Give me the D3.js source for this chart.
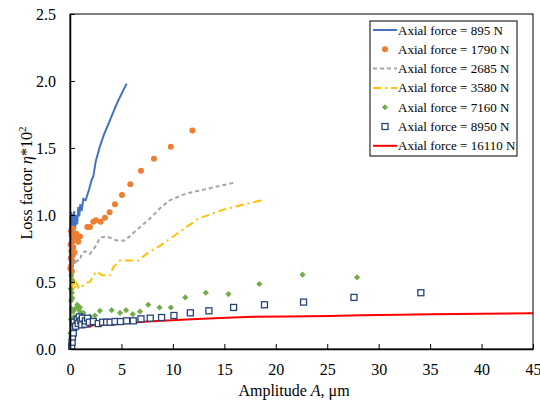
<!DOCTYPE html>
<html>
<head>
<meta charset="utf-8">
<script src="https://cdn.jsdelivr.net/npm/d3@7"></script>
<style>
  body { margin: 0; background: #fff; }
  text { font-family: "Liberation Serif", "Times New Roman", serif; fill: #000; }
</style>
</head>
<body>
<svg width="540" height="402"></svg>
<script>
// amplitude (um), loss factor (x100)
const force895 = [[0.03,0.88],[0.06,1.0],[0.09,0.82],[0.12,1.02],[0.16,0.88],[0.2,0.98],[0.25,0.84],[0.3,1.01],[0.35,0.9],[0.4,1.03],[0.5,0.9],[0.6,1.0],[0.7,0.93],[0.8,1.06],[0.9,0.99],[1.0,1.08],[1.13,1.03],[1.3,1.12],[1.52,1.11],[1.85,1.19],[2.1,1.26],[2.27,1.29],[2.5,1.4],[2.9,1.51],[3.3,1.6],[3.9,1.71],[4.6,1.84],[5.5,1.98]]
const force1790 = [[0.03,0.6],[0.05,0.78],[0.07,0.68],[0.09,0.88],[0.11,0.62],[0.13,0.73],[0.15,0.85],[0.17,0.66],[0.19,0.58],[0.22,0.8],[0.26,0.7],[0.3,0.9],[0.32,0.76],[0.36,0.83],[0.42,0.72],[0.49,0.83],[0.6,0.86],[0.8,0.8],[0.97,0.84],[1.68,0.91],[1.94,0.91],[2.27,0.95],[2.53,0.96],[2.98,0.95],[3.4,0.98],[3.85,1.02],[4.37,1.08],[5.05,1.15],[5.86,1.23],[6.9,1.33],[8.16,1.42],[9.8,1.51],[11.9,1.63]]
const force2685 = [[0.03,0.55],[0.06,0.66],[0.1,0.6],[0.14,0.7],[0.18,0.58],[0.22,0.68],[0.3,0.62],[0.4,0.68],[0.5,0.63],[0.7,0.66],[0.97,0.66],[1.13,0.71],[1.46,0.73],[1.94,0.71],[2.6,0.78],[2.9,0.83],[3.56,0.84],[3.9,0.83],[4.53,0.81],[5.0,0.81],[5.35,0.81],[6.5,0.89],[7.8,0.975],[8.75,1.05],[9.7,1.11],[11.3,1.16],[13.6,1.2],[15.87,1.24]]
const force3580 = [[0.02,0.08],[0.04,0.32],[0.06,0.15],[0.08,0.55],[0.1,0.25],[0.12,0.72],[0.14,0.4],[0.16,0.9],[0.18,0.35],[0.2,0.62],[0.24,0.42],[0.3,0.58],[0.35,0.44],[0.42,0.52],[0.5,0.45],[0.65,0.49],[0.8,0.46],[0.97,0.48],[1.2,0.47],[1.46,0.49],[1.94,0.5],[2.3,0.55],[2.6,0.58],[3.08,0.55],[3.5,0.55],[3.9,0.55],[4.2,0.61],[4.86,0.66],[5.5,0.66],[6.6,0.66],[7.8,0.73],[8.75,0.77],[10.4,0.86],[11.7,0.93],[12.5,0.975],[13.3,0.995],[14.9,1.04],[17.5,1.09],[18.7,1.11]]
const force7160 = [[0.04,0.12],[0.06,0.45],[0.08,0.22],[0.1,0.36],[0.12,0.55],[0.15,0.3],[0.18,0.42],[0.22,0.51],[0.22,0.38],[0.26,0.2],[0.3,0.28],[0.39,0.24],[0.5,0.3],[0.7,0.33],[0.8,0.3],[0.97,0.31],[0.97,0.28],[1.3,0.27],[1.94,0.24],[2.43,0.25],[2.9,0.285],[4.05,0.29],[4.86,0.27],[5.45,0.29],[6.1,0.26],[6.8,0.28],[7.6,0.33],[8.7,0.31],[9.8,0.31],[11.2,0.385],[13.2,0.42],[15.4,0.41],[18.4,0.485],[22.6,0.555],[27.9,0.535]]
const force8950 = [[0.16,0.02],[0.2,0.05],[0.24,0.09],[0.32,0.12],[0.36,0.16],[0.4,0.2],[0.55,0.17],[0.7,0.22],[0.8,0.19],[0.9,0.24],[1.05,0.21],[1.13,0.18],[1.2,0.23],[1.46,0.185],[1.5,0.21],[1.7,0.23],[1.88,0.2],[2.27,0.205],[2.75,0.19],[3.17,0.2],[3.56,0.2],[3.9,0.2],[4.37,0.205],[4.9,0.205],[5.5,0.21],[6.15,0.21],[6.9,0.225],[7.8,0.23],[8.9,0.235],[10.1,0.25],[11.7,0.27],[13.5,0.285],[15.9,0.31],[18.9,0.33],[22.7,0.35],[27.6,0.385],[34.1,0.42]]
const force16110 = [[0.3,0.21],[0.5,0.18],[0.8,0.2],[1.1,0.175],[1.5,0.19],[1.9,0.165],[2.3,0.18],[2.8,0.17],[3.4,0.185],[4.0,0.18],[4.9,0.19],[6,0.195],[7.5,0.205],[9,0.21],[11.3,0.22],[14,0.23],[17.8,0.24],[21,0.242],[25.3,0.246],[28.2,0.252],[32,0.256],[35,0.26],[40,0.263],[45,0.266]]

const xTicks = [0,5,10,15,20,25,30,35,40,45]
const yTicks = [0,0.5,1.0,1.5,2.0,2.5]
const legendLabels = ['Axial force = 895 N','Axial force = 1790 N','Axial force = 2685 N','Axial force = 3580 N','Axial force = 7160 N','Axial force = 8950 N','Axial force = 16110 N']

const FONT = '"Liberation Serif", "Times New Roman", serif'

const svg = d3.select('svg'),
  margin = {top:14,right:7,bottom:53,left:70},
  width = svg.attr('width') - margin.left - margin.right,
  height = svg.attr('height') - margin.top - margin.bottom

const x = d3.scaleLinear().domain([0,45]).range([0,width])
const y = d3.scaleLinear().domain([0,2.5]).range([height,0])

const g = svg.append('g')
  .attr('transform',`translate(${margin.left},${margin.top})`)

const line = d3.line().x(d => x(d[0])).y(d => y(d[1]))

// lines
g.append('path').datum(force16110)
  .attr('fill','none').attr('stroke','#ff0000').attr('stroke-width',2).attr('d',line)
g.append('path').datum(force3580)
  .attr('fill','none').attr('stroke','#ffc000').attr('stroke-width',2)
  .attr('stroke-dasharray','8,4,2,4').attr('d',line)
g.append('path').datum(force2685)
  .attr('fill','none').attr('stroke','#a5a5a5').attr('stroke-width',2)
  .attr('stroke-dasharray','4,3').attr('d',line)
g.append('path').datum(force895)
  .attr('fill','none').attr('stroke','#4472c4').attr('stroke-width',2).attr('d',line)

// markers
g.selectAll('.o1790').data(force1790).enter().append('circle')
  .attr('class','o1790')
  .attr('cx',d => x(d[0])).attr('cy',d => y(d[1])).attr('r',3)
  .attr('fill','#ed7d31')
const diamond = d3.symbol().type(d3.symbolDiamond2).size(24)
g.selectAll('.o7160').data(force7160).enter().append('path')
  .attr('class','o7160')
  .attr('transform',d => `translate(${x(d[0])},${y(d[1])})`)
  .attr('d',diamond).attr('fill','#70ad47')
g.selectAll('.o8950').data(force8950).enter().append('rect')
  .attr('class','o8950')
  .attr('x',d => x(d[0])-3).attr('y',d => y(d[1])-3)
  .attr('width',6).attr('height',6)
  .attr('fill','#fff').attr('stroke','#264478').attr('stroke-width',1.3)

// frame + axes
g.append('rect').attr('width',width).attr('height',height)
  .attr('fill','none').attr('stroke','#000').attr('stroke-width',1)

const xAxis = g.append('g')
  .attr('transform',`translate(0,${height})`)
  .call(d3.axisBottom(x).tickValues(xTicks).tickSizeInner(-5).tickSizeOuter(0).tickPadding(15))
const yAxis = g.append('g')
  .call(d3.axisLeft(y).tickValues(yTicks).tickFormat(d3.format('.1f')).tickSizeInner(-5).tickSizeOuter(0).tickPadding(14))
;[xAxis,yAxis].forEach(a => {
  a.attr('font-family',FONT).attr('font-size',16)
  a.selectAll('text').attr('fill','#000')
  a.select('.domain').attr('stroke','#000').attr('stroke-width',1.5)
})

svg.append('text')
  .attr('x',294).attr('y',396).attr('text-anchor','middle')
  .attr('font-family',FONT).attr('font-size',16)
  .html('Amplitude <tspan font-style="italic">A</tspan>, μm')
svg.append('text')
  .attr('transform','translate(32,183) rotate(-90)').attr('text-anchor','middle')
  .attr('font-family',FONT).attr('font-size',16)
  .html('Loss factor <tspan font-style="italic">η</tspan>*10<tspan dy="-6" font-size="11">2</tspan>')

// legend
const legend = svg.append('g')
legend.append('rect')
  .attr('x',370).attr('y',21).attr('width',147).attr('height',135)
  .attr('fill','#fff').attr('stroke','#000').attr('stroke-width',1)
const rows = legend.selectAll('.row').data(legendLabels).enter().append('g')
  .attr('class','row')
  .attr('transform',(d,i) => `translate(373,${30 + i*19.3})`)
rows.append('text').attr('x',25).attr('y',4.5)
  .attr('font-family',FONT).attr('font-size',13).text(d => d)
const styles = [
  {stroke:'#4472c4'},
  {dot:'#ed7d31'},
  {stroke:'#a5a5a5',dash:'4,3'},
  {stroke:'#ffc000',dash:'8,4,2,4'},
  {diamond:'#70ad47'},
  {square:'#264478'},
  {stroke:'#ff0000'}
]
rows.each(function(d,i){
  const s = styles[i], r = d3.select(this)
  if(s.stroke) r.append('line').attr('x1',0).attr('x2',24).attr('y1',0).attr('y2',0)
    .attr('stroke',s.stroke).attr('stroke-width',2).attr('stroke-dasharray',s.dash || null)
  if(s.dot) r.append('circle').attr('cx',12).attr('cy',0).attr('r',3).attr('fill',s.dot)
  if(s.diamond) r.append('path').attr('transform','translate(12,0)').attr('d',diamond).attr('fill',s.diamond)
  if(s.square) r.append('rect').attr('x',9).attr('y',-3).attr('width',6).attr('height',6)
    .attr('fill','#fff').attr('stroke',s.square).attr('stroke-width',1.3)
})
</script>
</body>
</html>
